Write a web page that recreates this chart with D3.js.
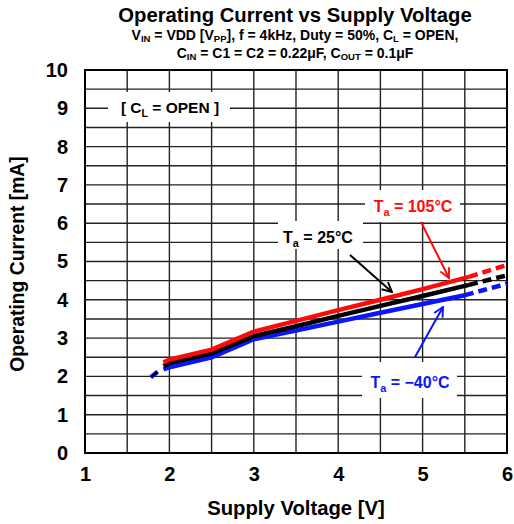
<!DOCTYPE html>
<html>
<head>
<meta charset="utf-8">
<script src="https://cdn.jsdelivr.net/npm/d3@7"></script>
<style>
body{margin:0;background:#fff;}
svg text{font-family:"Liberation Sans",Arial,sans-serif;font-weight:bold;}
</style>
</head>
<body>
<svg id="chart"></svg>
<script>
var screen={width:514,height:524}
var margins={top:70,right:7,bottom:71,left:85}

// data: [voltage V, current mA]
var redSolid=[[1.93,2.36],[2.0,2.44],[2.5,2.7],[3.0,3.17],[3.5,3.45],[4.0,3.73],[4.5,4.0],[5.0,4.28],[5.55,4.6]]
var redDash=[[5.55,4.6],[6.0,4.91]]
var blackSolid=[[1.93,2.27],[2.0,2.35],[2.5,2.6],[3.0,3.05],[3.5,3.31],[4.0,3.58],[4.5,3.84],[5.0,4.1],[5.55,4.39]]
var blackDash=[[5.55,4.39],[6.0,4.64]]
var blueSolid=[[1.93,2.18],[2.0,2.24],[2.5,2.5],[3.0,2.97],[3.5,3.2],[4.0,3.43],[4.5,3.66],[5.0,3.89],[5.5,4.12]]
var blueDash=[[5.5,4.12],[6.0,4.42]]
var startPiece=[[1.78,1.98],[1.86,2.12]]
var xTicks=[1,2,3,4,5,6]
var yTicks=[0,1,2,3,4,5,6,7,8,9,10]

var svg=d3.select("#chart").attr("width",screen.width).attr("height",screen.height)
var w=screen.width-margins.left-margins.right
var h=screen.height-margins.top-margins.bottom

var x=d3.scaleLinear().domain([1,6]).range([margins.left,margins.left+w])
var y=d3.scaleLinear().domain([0,10]).range([margins.top+h,margins.top])

var grid=svg.append("g")
grid.selectAll(".vg").data(d3.range(1.5,6,0.5)).enter().append("line")
  .attr("x1",function(d){return x(d)}).attr("x2",function(d){return x(d)})
  .attr("y1",y(0)).attr("y2",y(10)).attr("stroke","#222").attr("stroke-width",1.4)
grid.selectAll(".hg").data(d3.range(0.5,10,0.5)).enter().append("line")
  .attr("y1",function(d){return y(d)}).attr("y2",function(d){return y(d)})
  .attr("x1",x(1)).attr("x2",x(6)).attr("stroke","#222").attr("stroke-width",1.4)

// axes, only for labels
var xa=svg.append("g").attr("transform","translate(0,"+y(0)+")")
  .call(d3.axisBottom(x).tickValues(xTicks).tickSize(0).tickPadding(21).tickFormat(d3.format("d")))
var ya=svg.append("g").attr("transform","translate("+(x(1)-17)+",0)")
  .call(d3.axisLeft(y).tickValues(yTicks).tickSize(0).tickPadding(0).tickFormat(d3.format("d")))
xa.select(".domain").remove(); ya.select(".domain").remove()
svg.selectAll(".tick text").style("font-size","20px").attr("fill","#000")
  .style("font-family","Liberation Sans, Arial, sans-serif").style("font-weight","bold")
xa.selectAll(".tick text").attr("dy","0.35em")

svg.append("rect").attr("x",x(1)).attr("y",y(10)).attr("width",x(6)-x(1)).attr("height",y(0)-y(10))
  .attr("fill","none").attr("stroke","#000").attr("stroke-width",2)

// label boxes (white)
var boxes=[[108,92,122,30],[278,221,85,28],[365,190,95,32],[362,362,95,36]]
svg.selectAll(".box").data(boxes).enter().append("rect")
  .attr("x",function(d){return d[0]}).attr("y",function(d){return d[1]})
  .attr("width",function(d){return d[2]}).attr("height",function(d){return d[3]}).attr("fill","#fff")

var line=d3.line().x(function(d){return x(d[0])}).y(function(d){return y(d[1])})
var series=[[blueSolid,blueDash,"#0a14ff"],[blackSolid,blackDash,"#000"],[redSolid,redDash,"#ff0a0a"]]
series.forEach(function(s){
  svg.append("path").attr("d",line(s[0])).attr("fill","none").attr("stroke",s[2]).attr("stroke-width",4.5)
  svg.append("path").attr("d",line(s[1])).attr("fill","none").attr("stroke",s[2]).attr("stroke-width",4.5)
    .attr("stroke-dasharray","9,5")
})
svg.append("path").attr("d",line(startPiece)).attr("fill","none").attr("stroke","#0a14ff").attr("stroke-width",4.5)
svg.append("path").attr("d",line(startPiece)).attr("fill","none").attr("stroke","#000").attr("stroke-width",2)

// arrows
var defs=svg.append("defs")
;[["ar","#ff0a0a"],["ak","#000"],["ab","#0a14ff"]].forEach(function(m){
  defs.append("marker").attr("id",m[0]).attr("viewBox","0 0 10 10").attr("refX",9).attr("refY",5)
    .attr("markerWidth",6).attr("markerHeight",6).attr("orient","auto").attr("markerUnits","strokeWidth")
    .append("path").attr("d","M1,1 L9,5 L1,9").attr("fill","none").attr("stroke",m[1]).attr("stroke-width",1.6)
})
var arrows=[[421,222,449,278,"#ff0a0a","ar"],[350,255,392,292,"#000","ak"],[415,357,443,307,"#0a14ff","ab"]]
svg.selectAll(".arr").data(arrows).enter().append("line")
  .attr("x1",function(d){return d[0]}).attr("y1",function(d){return d[1]})
  .attr("x2",function(d){return d[2]}).attr("y2",function(d){return d[3]})
  .attr("stroke",function(d){return d[4]}).attr("stroke-width",2)
  .attr("marker-end",function(d){return "url(#"+d[5]+")"})

// text helper with subscripts: parts = [[text, sub?],...]
var label=function(px,py,size,color,parts,drop){
  var t=svg.append("text").attr("x",px).attr("y",py).attr("font-size",size).attr("fill",color)
    .attr("text-anchor","middle")
  var d=(drop||0.25)*size
  var down=false
  parts.forEach(function(p){
    var s=t.append("tspan").text(p[0])
    if(p[1]){
      s.attr("font-size",size*0.68).attr("dy",d); down=true
    } else if(down){
      s.attr("dy",-d); down=false
    }
  })
  return t
}

label(295,22,20.3,"#000",[["Operating Current vs Supply Voltage"]])
label(295,40,14,"#000",[["V"],["IN",1],[" = VDD [V"],["PP",1],["], f = 4kHz, Duty = 50%, C"],["L",1],[" = OPEN,"]],0.16)
label(295,58,14,"#000",[["C"],["IN",1],[" = C1 = C2 = 0.22μF, C"],["OUT",1],[" = 0.1μF"]],0.16)
label(170,113,15.5,"#000",[["[ C"],["L",1],[" = OPEN ]"]])
label(318,243,16,"#000",[["T"],["a",1],[" = 25°C"]])
label(413,212,16,"#ff0a0a",[["T"],["a",1],[" = 105°C"]])
label(410,388,16,"#0a14ff",[["T"],["a",1],[" = −40°C"]])

svg.append("text").attr("x",296).attr("y",515).attr("text-anchor","middle").attr("font-size",20.3).text("Supply Voltage [V]")
svg.append("text").attr("transform","translate(24,264) rotate(-90)").attr("text-anchor","middle")
  .attr("font-size",19.3).text("Operating Current [mA]")
</script>
</body>
</html>
